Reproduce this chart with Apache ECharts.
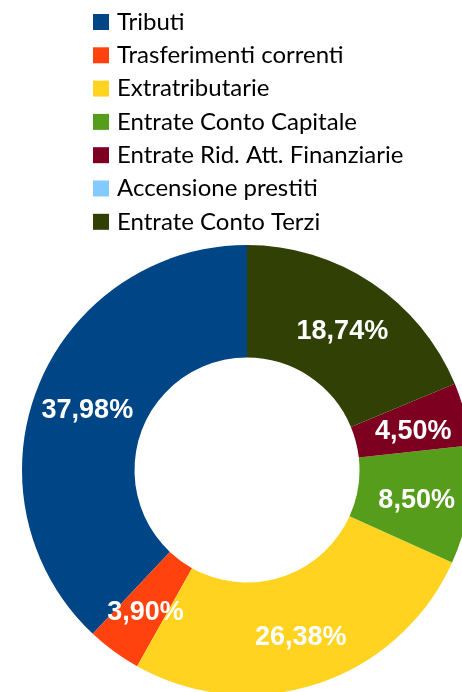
<!DOCTYPE html>
<html>
<head>
<meta charset="utf-8">
<script src="https://cdn.jsdelivr.net/npm/echarts@6/dist/echarts.min.js"></script>
<style>
  html, body { margin: 0; padding: 0; background: #fff; }
  #chart { width: 462px; height: 692px; }
</style>
</head>
<body>
<div id="chart"></div>
<script>
// Composizione entrate — ciambella con legenda verticale sopra
const categories = [
  'Tributi',
  'Trasferimenti correnti',
  'Extratributarie',
  'Entrate Conto Capitale',
  'Entrate Rid. Att. Finanziarie',
  'Accensione prestiti',
  'Entrate Conto Terzi'
];
const percentValues = [37.98, 3.90, 26.38, 8.50, 4.50, 0, 18.74];
// palette LibreOffice
const sliceColors = ['#004586', '#ff420e', '#ffd320', '#579d1c', '#7e0021', '#83caff', '#314004'];

const chart = echarts.init(document.getElementById('chart'), null, { renderer: 'canvas' });

chart.setOption({
  animation: false,
  color: sliceColors,
  legend: {
    orient: 'vertical',
    left: 88,
    top: 5,
    icon: 'rect',
    itemWidth: 16,
    itemHeight: 16,
    itemGap: 9.3,
    data: categories,
    selectedMode: false,
    textStyle: {
      fontFamily: 'Lato',
      fontSize: 24,
      color: '#000',
      lineHeight: 24,
      padding: [0, 0, 0, 3]
    }
  },
  series: [{
    type: 'pie',
    center: [247, 470],
    radius: [112.5, 225],
    clockwise: false,     // Tributi parte da ore 12 in senso antiorario
    startAngle: 90,
    avoidLabelOverlap: false,
    label: {
      show: true,
      position: 'inside',
      color: '#fff',
      fontFamily: '"Liberation Sans Narrow", "Liberation Sans", sans-serif',
      fontWeight: 'bold',
      fontSize: 27,
      offset: [0, 4],
      formatter: function (p) {
        return p.value.toFixed(2).replace('.', ',') + '%';
      }
    },
    labelLine: { show: false },
    emphasis: { disabled: true },
    data: categories.map(function (name, i) {
      return {
        name: name,
        value: percentValues[i],
        label: { show: percentValues[i] > 0 }
      };
    })
  }]
});
</script>
</body>
</html>
